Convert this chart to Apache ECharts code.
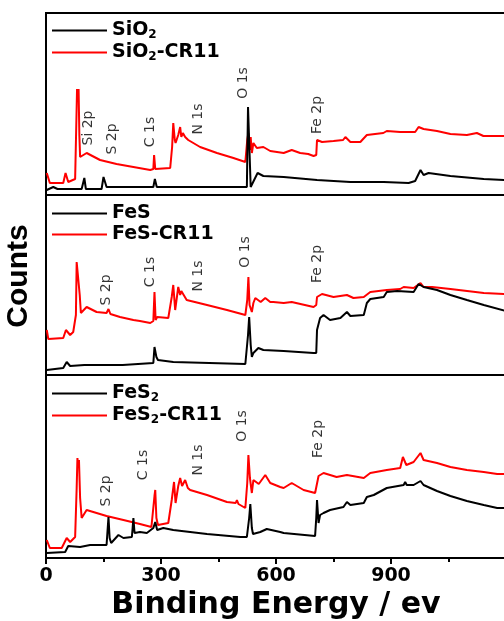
<!DOCTYPE html>
<html>
<head>
<meta charset="utf-8">
<script src="https://cdn.jsdelivr.net/npm/echarts@6/dist/echarts.min.js"></script>
<style>
  html, body { margin: 0; padding: 0; background: #fff; }
  #chart { width: 504px; height: 621px; }
</style>
</head>
<body>
<div id="chart"></div>
<script>
// XPS survey spectra, three stacked panels; [binding energy (eV), counts (a.u.)]
const sio2 = [[2,5],[19,8],[30,6],[93,6],[97,6],[100,17],[104,6],[145,6],[150,18],[154,18],[158,8],[280,8],[284,16],[289,8],[328,8],[332,7],[524,8],[527,88],[531,88],[534,8],[537,8],[552,22],[567,19],[620,18],[707,15],[794,13],[881,13],[946,12],[963,14],[977,25],[985,20],[998,22],[1055,19],[1142,16],[1200,15]];
const sio2Cr11 = [[2,22],[10,12],[45,12],[51,22],[58,13],[63,14],[76,16],[81,106],[83,95],[85,106],[87,60],[89,38],[106,42],[141,35],[184,31],[228,28],[272,25],[280,26],[282,40],[285,26],[289,25],[324,27],[329,48],[332,72],[336,55],[338,52],[345,60],[350,68],[353,58],[357,62],[363,58],[371,55],[402,48],[446,42],[489,37],[520,33],[525,55],[528,62],[531,45],[534,58],[537,42],[541,52],[550,47],[567,48],[585,44],[620,42],[641,45],[663,42],[684,41],[698,39],[705,40],[707,55],[720,53],[750,54],[775,55],[781,58],[794,53],[820,53],[837,60],[880,62],[889,64],[924,63],[963,63],[972,68],[985,66],[1020,64],[1055,61],[1098,60],[1124,62],[1141,59],[1200,59]];

const fes = [[2,5],[45,7],[54,13],[63,9],[100,10],[158,10],[200,10],[280,12],[283,28],[285,30],[288,18],[292,15],[332,13],[520,11],[527,40],[530,58],[534,30],[537,18],[541,22],[554,27],[567,25],[620,24],[698,22],[705,22],[707,45],[715,57],[724,60],[741,55],[768,57],[785,63],[794,59],[829,60],[837,72],[846,76],[881,78],[889,83],[916,84],[959,83],[972,91],[985,88],[1020,85],[1055,80],[1098,75],[1142,70],[1200,64]];
const fesCr11 = [[2,45],[6,36],[45,37],[52,45],[63,40],[71,43],[78,60],[80,113],[84,113],[88,80],[91,62],[106,68],[132,63],[158,62],[163,66],[168,61],[193,58],[228,55],[245,54],[272,52],[280,54],[283,83],[286,55],[290,58],[319,57],[328,78],[332,90],[337,65],[345,88],[350,80],[353,84],[358,83],[367,75],[420,70],[472,65],[520,60],[525,75],[528,98],[531,70],[537,63],[541,72],[546,77],[560,73],[572,77],[585,73],[593,73],[620,72],[641,73],[698,68],[705,70],[707,78],[720,81],[750,78],[785,80],[802,77],[829,78],[846,83],[889,85],[924,86],[933,88],[959,87],[977,92],[985,88],[1007,88],[1055,86],[1142,82],[1200,81]];

const fes2 = [[2,5],[50,6],[58,12],[89,11],[115,13],[158,13],[161,30],[163,41],[166,20],[170,15],[189,23],[202,20],[224,21],[226,30],[228,40],[231,25],[245,26],[263,25],[280,30],[285,36],[290,28],[306,30],[332,28],[420,24],[507,21],[524,21],[530,40],[533,54],[537,30],[540,24],[559,26],[576,29],[611,26],[620,25],[702,22],[705,40],[707,58],[711,35],[715,43],[724,45],[741,48],[776,51],[785,56],[794,53],[829,55],[837,61],[855,63],[889,70],[933,73],[937,76],[941,73],[959,73],[977,77],[985,73],[1020,67],[1055,62],[1098,57],[1142,53],[1177,50],[1200,50]];
const fes2Cr11 = [[2,18],[10,10],[41,10],[54,20],[63,16],[76,21],[80,70],[82,100],[84,90],[86,98],[89,60],[93,40],[106,48],[158,42],[202,38],[245,34],[275,31],[280,33],[283,62],[285,68],[288,40],[292,33],[319,35],[328,58],[334,76],[338,55],[345,72],[350,80],[355,72],[363,78],[370,70],[376,68],[420,63],[472,56],[495,55],[498,58],[502,54],[520,50],[525,75],[528,103],[532,80],[537,65],[541,78],[555,74],[572,83],[585,75],[611,71],[620,70],[641,75],[672,68],[702,65],[711,82],[724,85],[758,81],[785,83],[829,80],[846,85],[889,88],[924,90],[931,101],[940,93],[959,96],[977,105],[985,98],[1020,95],[1055,91],[1098,88],[1142,86],[1177,84],[1200,84]];

// peak assignments per panel: [label, energy, height]
const peaks1 = [['Si 2p',110,67],['S 2p',172,56],['C 1s',272,63],['N 1s',397,76],['O 1s',514,112],['Fe 2p',707,80]];
const peaks2 = [['S 2p',158,85],['C 1s',272,103],['N 1s',397,99],['O 1s',520,123],['Fe 2p',707,111]];
const peaks3 = [['S 2p',158,67],['C 1s',254,93],['N 1s',397,98],['O 1s',511,132],['Fe 2p',710,119]];

const names = [['SiO2','SiO2-CR11'],['FeS','FeS-CR11'],['FeS2','FeS2-CR11']];
const xTicks = { min: 0, max: 1200, interval: 300 };
const xTitle = 'Binding Energy / ev';
const yTitle = 'Counts';

const panels = [
  { black: sio2, red: sio2Cr11, peaks: peaks1, top: 13, height: 182, legendTop: 16 },
  { black: fes, red: fesCr11, peaks: peaks2, top: 195, height: 180, legendTop: 199 },
  { black: fes2, red: fes2Cr11, peaks: peaks3, top: 375, height: 183, legendTop: 379 }
];

const boldFont = 'DejaVu Sans';

// legend names with subscript digits
function richName(n) {
  const m = n.match(/^([A-Za-z]+)2(.*)$/);
  if (m) return '{t|' + m[1] + '}{s|2}' + (m[2] ? '{t|' + m[2] + '}' : '');
  return '{t|' + n + '}';
}

const grid = [], xAxis = [], yAxis = [], series = [], legend = [];
panels.forEach((p, i) => {
  const last = i === panels.length - 1;
  grid.push({ left: 46, width: 460, top: p.top, height: p.height, show: true,
    outerBoundsMode: 'none', containLabel: false,
    borderColor: '#000', borderWidth: 2, backgroundColor: 'transparent' });
  xAxis.push({
    type: 'value', gridIndex: i, min: xTicks.min, max: xTicks.max, interval: xTicks.interval,
    splitLine: { show: false },
    axisLine: { show: last, lineStyle: { color: '#000', width: 2 } },
    axisTick: { show: last, length: 6, lineStyle: { color: '#000', width: 2 } },
    minorTick: { show: last, splitNumber: 2, length: 4, lineStyle: { color: '#000', width: 2 } },
    axisLabel: { show: last, showMaxLabel: false, margin: 9, color: '#000',
      fontFamily: boldFont, fontWeight: 'bold', fontSize: 19 },
    name: last ? xTitle : '', nameLocation: 'middle', nameGap: 32, nameMoveOverlap: false,
    nameTextStyle: { color: '#000', fontFamily: boldFont, fontWeight: 'bold', fontSize: 30 }
  });
  yAxis.push({
    type: 'value', gridIndex: i, min: 0, max: p.height,
    splitLine: { show: false }, axisLine: { show: false }, axisTick: { show: false },
    axisLabel: { show: false },
    name: i === 1 ? yTitle : '', nameLocation: 'middle', nameGap: 12, nameRotate: 90,
    nameMoveOverlap: false,
    nameTextStyle: { color: '#000', fontFamily: 'Liberation Sans', fontWeight: 'bold',
      fontSize: 30, padding: [0, 0, 0, 18] }
  });
  series.push({ type: 'line', name: names[i][0], xAxisIndex: i, yAxisIndex: i, data: p.black,
    showSymbol: false, symbol: 'none', color: '#000', lineStyle: { width: 2, color: '#000' }, z: 3 });
  series.push({ type: 'line', name: names[i][1], xAxisIndex: i, yAxisIndex: i, data: p.red,
    showSymbol: false, symbol: 'none', color: '#ff0000', lineStyle: { width: 2, color: '#ff0000' }, z: 2 });
  series.push({ type: 'scatter', name: 'peaks' + i, xAxisIndex: i, yAxisIndex: i, symbolSize: 0, silent: true,
    data: p.peaks.map(d => ({ name: d[0], value: [d[1], d[2]] })),
    label: { show: true, position: 'inside', rotate: 90, formatter: '{b}', color: '#000',
      fontFamily: 'DejaVu Sans', fontSize: 14 } });
  legend.push({
    data: names[i], orient: 'vertical', left: 47, top: p.legendTop, itemWidth: 55, itemHeight: 2,
    icon: 'rect', itemGap: 2, selectedMode: false,
    formatter: richName,
    textStyle: { rich: {
      t: { fontFamily: boldFont, fontWeight: 'bold', fontSize: 19, color: '#000' },
      s: { fontFamily: boldFont, fontWeight: 'bold', fontSize: 12, color: '#000', padding: [9, 0, 0, 0] }
    } }
  });
});

const chart = echarts.init(document.getElementById('chart'), null, { renderer: 'canvas' });
chart.setOption({ backgroundColor: '#fff', animation: false, grid, xAxis, yAxis, series, legend });
</script>
</body>
</html>
